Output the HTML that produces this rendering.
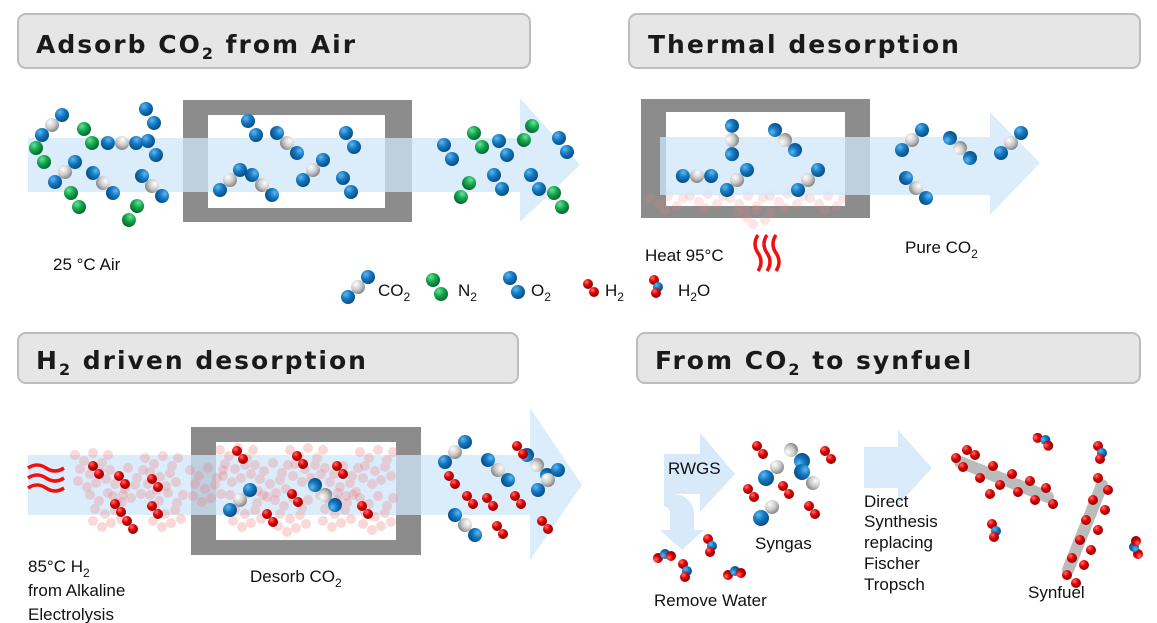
<!DOCTYPE html>
<html><head><meta charset="utf-8"><style>
html,body{margin:0;padding:0;background:#fff;}
svg{display:block;}
.t{font-family:"DejaVu Sans",sans-serif;font-weight:bold;font-size:25px;fill:#1a1a1a;letter-spacing:2px;}
.l{font-family:"Liberation Sans",sans-serif;font-size:17px;fill:#111;}
</style></head><body>
<svg width="1157" height="623" viewBox="0 0 1157 623" xmlns="http://www.w3.org/2000/svg">
<defs>
<radialGradient id="gb" cx="35%" cy="30%" r="70%"><stop offset="0" stop-color="#5fb8f0"/><stop offset="0.5" stop-color="#1479c2"/><stop offset="1" stop-color="#0a4f86"/></radialGradient>
<radialGradient id="gg" cx="35%" cy="30%" r="70%"><stop offset="0" stop-color="#6de09a"/><stop offset="0.5" stop-color="#13a84e"/><stop offset="1" stop-color="#0a6a30"/></radialGradient>
<radialGradient id="gw" cx="35%" cy="30%" r="70%"><stop offset="0" stop-color="#ffffff"/><stop offset="0.6" stop-color="#c8c8c8"/><stop offset="1" stop-color="#8a8a8a"/></radialGradient>
<radialGradient id="gr" cx="35%" cy="30%" r="70%"><stop offset="0" stop-color="#ff7070"/><stop offset="0.5" stop-color="#e00000"/><stop offset="1" stop-color="#900000"/></radialGradient>
<g id="co2"><circle cx="-10" cy="10" r="7" fill="url(#gb)"/><circle cx="0" cy="0" r="7" fill="url(#gw)"/><circle cx="10" cy="-10" r="7" fill="url(#gb)"/></g>
<g id="o2"><circle cx="-4" cy="-7" r="7" fill="url(#gb)"/><circle cx="4" cy="7" r="7" fill="url(#gb)"/></g>
<g id="n2"><circle cx="-4" cy="-7" r="7" fill="url(#gg)"/><circle cx="4" cy="7" r="7" fill="url(#gg)"/></g>
<g id="h2"><circle cx="-3" cy="-4" r="5" fill="url(#gr)"/><circle cx="3" cy="4" r="5" fill="url(#gr)"/></g>
<g id="h2o"><circle cx="-3" cy="-6" r="5" fill="url(#gr)"/><circle cx="1" cy="1" r="5" fill="url(#gb)"/><circle cx="-1" cy="7" r="5" fill="url(#gr)"/></g>
<g id="co"><circle cx="-6" cy="6" r="8" fill="url(#gb)"/><circle cx="5" cy="-5" r="7" fill="url(#gw)"/></g>
<g id="haze" fill="#f08080" opacity="0.3">
<circle cx="0" cy="0" r="5"/><circle cx="9" cy="6" r="5"/><circle cx="18" cy="-2" r="5"/><circle cx="27" cy="8" r="5"/><circle cx="5" cy="14" r="5"/><circle cx="15" cy="19" r="5"/><circle cx="25" cy="15" r="5"/><circle cx="33" cy="0" r="5"/><circle cx="3" cy="26" r="5"/><circle cx="21" cy="28" r="5"/><circle cx="31" cy="24" r="5"/><circle cx="12" cy="32" r="5"/>
</g>
<g id="haze2" fill="#f08080" opacity="0.2">
<circle cx="0" cy="0" r="5"/><circle cx="9" cy="6" r="5"/><circle cx="18" cy="-2" r="5"/><circle cx="27" cy="8" r="5"/><circle cx="33" cy="0" r="5"/><circle cx="15" cy="12" r="5"/>
</g>
</defs>

<rect x="18" y="14" width="512" height="54" rx="8" fill="#e6e6e6" stroke="#bdbdbd" stroke-width="2"/>
<text class="t" x="36" y="53">Adsorb CO<tspan font-size="16" dy="6">2</tspan><tspan dy="-6"> from Air</tspan></text>
<rect x="629" y="14" width="511" height="54" rx="8" fill="#e6e6e6" stroke="#bdbdbd" stroke-width="2"/>
<text class="t" x="648" y="53">Thermal desorption</text>
<rect x="18" y="333" width="500" height="50" rx="8" fill="#e6e6e6" stroke="#bdbdbd" stroke-width="2"/>
<text class="t" x="36" y="369">H<tspan font-size="16" dy="6">2</tspan><tspan dy="-6"> driven desorption</tspan></text>
<rect x="637" y="333" width="503" height="50" rx="8" fill="#e6e6e6" stroke="#bdbdbd" stroke-width="2"/>
<text class="t" x="655" y="369">From CO<tspan font-size="16" dy="6">2</tspan><tspan dy="-6"> to synfuel</tspan></text>

<rect x="183" y="100" width="229" height="122" fill="#8c8c8c"/>
<rect x="208" y="115" width="177" height="93" fill="#fff"/>
<polygon points="28,138 520,138 520,98 580,165 520,222 520,192 28,192" fill="#cfe6fa" opacity="0.75"/>
<use href="#co2" x="52" y="125"/>
<use href="#n2" x="40" y="155"/><use href="#n2" x="88" y="136"/>
<use href="#co2" x="122" y="143" transform="rotate(45 122 143)"/>
<use href="#o2" x="150" y="116"/><use href="#o2" x="152" y="148"/>
<use href="#co2" x="65" y="172"/><use href="#co2" x="103" y="183" transform="rotate(90 103 183)"/>
<use href="#co2" x="152" y="186" transform="rotate(90 152 186)"/>
<use href="#n2" x="75" y="200"/><use href="#n2" x="133" y="213" transform="rotate(60 133 213)"/>
<use href="#o2" x="252" y="128"/><use href="#co2" x="287" y="143" transform="rotate(90 287 143)"/>
<use href="#o2" x="350" y="140"/><use href="#co2" x="230" y="180"/><use href="#co2" x="262" y="185" transform="rotate(90 262 185)"/>
<use href="#co2" x="313" y="170"/><use href="#o2" x="347" y="185"/>
<use href="#o2" x="448" y="152"/><use href="#n2" x="478" y="140"/><use href="#o2" x="503" y="148"/>
<use href="#n2" x="528" y="133" transform="rotate(60 528 133)"/><use href="#o2" x="563" y="145"/>
<use href="#n2" x="465" y="190" transform="rotate(60 465 190)"/><use href="#o2" x="498" y="182"/>
<use href="#o2" x="535" y="182"/><use href="#n2" x="558" y="200"/>
<text class="l" x="53" y="270">25 °C Air</text>

<rect x="641" y="99" width="229" height="119" fill="#8c8c8c"/>
<rect x="666" y="112" width="179" height="94" fill="#fff"/>
<use href="#haze2" x="650" y="198"/><use href="#haze2" x="690" y="196"/><use href="#haze2" x="730" y="198"/><use href="#haze2" x="770" y="196"/><use href="#haze2" x="810" y="198"/><use href="#haze2" x="738" y="212"/>
<polygon points="660,137 990,137 990,112 1040,163 990,215 990,195 660,195" fill="#cfe6fa" opacity="0.75"/>
<use href="#co2" x="732" y="140" transform="rotate(-45 732 140)"/><use href="#co2" x="785" y="140" transform="rotate(-90 785 140)"/>
<use href="#co2" x="697" y="176" transform="rotate(45 697 176)"/><use href="#co2" x="737" y="180"/>
<use href="#co2" x="808" y="180"/><use href="#co2" x="912" y="140"/>
<use href="#co2" x="960" y="148" transform="rotate(-90 960 148)"/><use href="#co2" x="1011" y="143"/>
<use href="#co2" x="916" y="188" transform="rotate(90 916 188)"/>
<g stroke="#f01010" stroke-width="3.5" fill="none"><path d="M758,235 q-6,9 0,18 q6,9 0,18"/><path d="M767,235 q-6,9 0,18 q6,9 0,18"/><path d="M776,235 q-6,9 0,18 q6,9 0,18"/></g>
<text class="l" x="645" y="261">Heat 95°C</text>
<text class="l" x="905" y="253">Pure CO<tspan font-size="12" dy="5">2</tspan></text>

<use href="#co2" x="358" y="287"/><text class="l" x="378" y="296">CO<tspan font-size="12" dy="5">2</tspan></text>
<use href="#n2" x="437" y="287"/><text class="l" x="458" y="296">N<tspan font-size="12" dy="5">2</tspan></text>
<use href="#o2" x="514" y="285"/><text class="l" x="531" y="296">O<tspan font-size="12" dy="5">2</tspan></text>
<use href="#h2" x="591" y="288"/><text class="l" x="605" y="296">H<tspan font-size="12" dy="5">2</tspan></text>
<use href="#h2o" x="657" y="286"/><text class="l" x="678" y="296">H<tspan font-size="12" dy="5">2</tspan><tspan dy="-5">O</tspan></text>

<rect x="191" y="427" width="230" height="128" fill="#8c8c8c"/>
<rect x="216" y="442" width="180" height="98" fill="#fff"/>
<polygon points="28,455 530,455 530,408 582,485 530,560 530,515 28,515" fill="#cfe6fa" opacity="0.75"/>
<use href="#haze" x="75" y="455"/><use href="#haze" x="110" y="470"/><use href="#haze" x="145" y="458"/><use href="#haze" x="90" y="495"/><use href="#haze" x="150" y="495"/>
<use href="#haze" x="220" y="450"/><use href="#haze" x="255" y="465"/><use href="#haze" x="290" y="450"/><use href="#haze" x="325" y="468"/><use href="#haze" x="360" y="452"/>
<use href="#haze" x="230" y="495"/><use href="#haze" x="275" y="500"/><use href="#haze" x="320" y="495"/><use href="#haze" x="360" y="498"/><use href="#haze" x="190" y="470"/>
<g stroke="#f01010" stroke-width="3.5" fill="none"><path d="M28,468 q9,-6 18,0 q9,6 18,0"/><path d="M28,478 q9,-6 18,0 q9,6 18,0"/><path d="M28,488 q9,-6 18,0 q9,6 18,0"/></g>
<use href="#h2" x="122" y="480"/><use href="#h2" x="155" y="483"/><use href="#h2" x="96" y="470"/><use href="#h2" x="118" y="508"/><use href="#h2" x="155" y="510"/>
<use href="#h2" x="130" y="525"/><use href="#h2" x="240" y="455"/><use href="#h2" x="300" y="460"/><use href="#h2" x="340" y="470"/>
<use href="#co2" x="240" y="500"/><use href="#co2" x="325" y="495" transform="rotate(-90 325 495)"/>
<use href="#h2" x="295" y="498"/><use href="#h2" x="270" y="518"/><use href="#h2" x="365" y="510"/>
<use href="#co2" x="455" y="452"/><use href="#co2" x="498" y="470" transform="rotate(90 498 470)"/>
<use href="#co2" x="537" y="465" transform="rotate(-90 537 465)"/><use href="#co2" x="548" y="480"/>
<use href="#co2" x="465" y="525" transform="rotate(90 465 525)"/>
<use href="#h2" x="452" y="480"/><use href="#h2" x="490" y="502"/><use href="#h2" x="520" y="450"/><use href="#h2" x="518" y="500"/>
<use href="#h2" x="470" y="500"/><use href="#h2" x="545" y="525"/><use href="#h2" x="500" y="530"/>
<text class="l" x="28" y="572">85°C H<tspan font-size="12" dy="5">2</tspan></text>
<text class="l" x="28" y="596">from Alkaline</text>
<text class="l" x="28" y="620">Electrolysis</text>
<text class="l" x="250" y="582">Desorb CO<tspan font-size="12" dy="5">2</tspan></text>

<g fill="#cfe6fa" opacity="0.8">
<polygon points="664,454 700,454 700,433 735,474 700,512 700,494 664,494"/>
<path d="M664,494 h10 a20,20 0 0 1 20,20 v16 h10 l-22,20 l-22,-20 h10 v-16 a8,8 0 0 0 -6,-8 z"/>
<polygon points="864,447 898,447 898,430 932,468 898,505 898,488 864,488"/>
</g>
<text class="l" x="668" y="474" font-size="14">RWGS</text>
<use href="#h2" x="760" y="450"/><use href="#co" x="796" y="455" transform="rotate(-90 796 455)"/><use href="#h2" x="828" y="455"/>
<use href="#co" x="772" y="472"/><use href="#co" x="808" y="478" transform="rotate(90 808 478)"/>
<use href="#h2" x="751" y="493"/><use href="#h2" x="786" y="490"/><use href="#h2" x="812" y="510"/>
<use href="#co" x="767" y="512"/>
<use href="#h2o" x="664" y="555" transform="rotate(-90 664 555)"/><use href="#h2o" x="711" y="545"/>
<use href="#h2o" x="686" y="570"/><use href="#h2o" x="734" y="572" transform="rotate(-90 734 572)"/>
<text class="l" x="755" y="549">Syngas</text>
<text class="l" x="654" y="606">Remove Water</text>
<text class="l" x="864" y="507" font-size="14">Direct</text>
<text class="l" x="864" y="527" font-size="14">Synthesis</text>
<text class="l" x="864" y="548" font-size="14">replacing</text>
<text class="l" x="864" y="569" font-size="14">Fischer</text>
<text class="l" x="864" y="590" font-size="14">Tropsch</text>
<g stroke="#bbbbbb" stroke-width="12" stroke-linecap="round" fill="none"><path d="M960,462 L1048,497"/><path d="M1102,485 L1068,570"/></g>
<g fill="url(#gr)">
<circle cx="956" cy="458" r="5"/><circle cx="963" cy="467" r="5"/><circle cx="975" cy="455" r="5"/><circle cx="980" cy="478" r="5"/><circle cx="993" cy="466" r="5"/><circle cx="1000" cy="485" r="5"/><circle cx="1012" cy="474" r="5"/><circle cx="1018" cy="492" r="5"/><circle cx="1030" cy="481" r="5"/><circle cx="1035" cy="500" r="5"/><circle cx="1046" cy="488" r="5"/><circle cx="1053" cy="504" r="5"/><circle cx="967" cy="450" r="5"/><circle cx="990" cy="494" r="5"/>
<circle cx="1098" cy="478" r="5"/><circle cx="1108" cy="490" r="5"/><circle cx="1093" cy="500" r="5"/><circle cx="1105" cy="510" r="5"/><circle cx="1086" cy="520" r="5"/><circle cx="1098" cy="530" r="5"/><circle cx="1080" cy="540" r="5"/><circle cx="1091" cy="550" r="5"/><circle cx="1072" cy="558" r="5"/><circle cx="1084" cy="565" r="5"/><circle cx="1067" cy="575" r="5"/><circle cx="1076" cy="583" r="5"/>
</g>
<use href="#h2o" x="1044" y="440" transform="rotate(-45 1044 440)"/><use href="#h2o" x="1101" y="452"/>
<use href="#h2o" x="995" y="530"/><use href="#h2o" x="1135" y="548" transform="rotate(180 1135 548)"/>
<text class="l" x="1028" y="598">Synfuel</text>
</svg>
</body></html>
